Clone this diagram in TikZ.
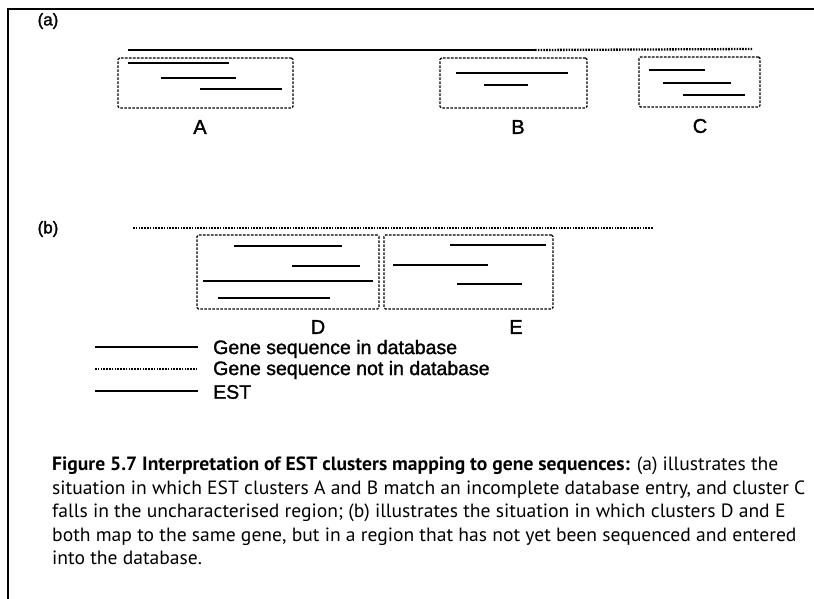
\documentclass[tikz,border=0pt]{standalone}
\usepackage{fontspec}
\setmainfont{Liberation Sans}
\newfontfamily\figfont[FakeBold=1.5]{Liberation Sans}
\newfontfamily\capfont[FakeStretch=1.02]{PT Sans}
\begin{document}
\begin{tikzpicture}[x=1pt,y=-1pt,
  frame/.style={line width=1.5pt},
  known/.style={line width=2.5pt},
  unknown/.style={line width=2.3pt, dash pattern=on 1.6pt off 1.2pt},
  est/.style={line width=2.1pt},
  cluster/.style={draw, line width=1.4pt, dash pattern=on 2.6pt off 1.4pt,
    rounded corners=1.5pt, inner sep=0pt, fill=none},
  lab/.style={font=\figfont\fontsize{20}{23}\selectfont, inner sep=0pt},
  panel/.style={font=\figfont\fontsize{17}{20}\selectfont, inner sep=0pt},
  legtext/.style={font=\figfont\fontsize{19.5}{22}\selectfont, anchor=west, inner sep=0pt}]
\useasboundingbox (0,0) rectangle (814,599);
\fill[white] (0,0) rectangle (814,599);

% outer frame (left and top rules)
\coordinate (fl) at (8,599);
\coordinate (tl) at (8,9);
\coordinate (tr) at (814,9);
\draw[frame] (fl) -- (tl) -- (tr);

% ---------- panel (a) ----------
\node[panel] (pa) at (48,21) {(a)};
\coordinate (a0) at (128,50);
\coordinate (a1) at (535,50);
\coordinate (a2) at (752,49);
\draw[known] (a0) -- (a1);
\draw[unknown] (a1) -- (a2);

\node[cluster, minimum width=175pt, minimum height=50pt] (boxA) at (205.5,83) {};
\draw[est] (128,63) -- (229,63);
\draw[est] (161,78) -- (236,78);
\draw[est] (200,89) -- (282,89);
\node[lab] (labA) at (200,127) {A};

\node[cluster, minimum width=147pt, minimum height=50pt] (boxB) at (513.5,83) {};
\draw[est] (456,73) -- (568,73);
\draw[est] (484,85) -- (528,85);
\node[lab] (labB) at (518,127) {B};

\node[cluster, minimum width=121pt, minimum height=50pt] (boxC) at (699.5,82) {};
\draw[est] (649,70) -- (705,70);
\draw[est] (663,83) -- (731,83);
\draw[est] (683,95) -- (745,95);
\node[lab] (labC) at (700,126) {C};

% ---------- panel (b) ----------
\node[panel] (pb) at (48,229) {(b)};
\coordinate (b0) at (133,228);
\coordinate (b1) at (653,228);
\draw[unknown] (b0) -- (b1);

\node[cluster, minimum width=182pt, minimum height=74pt] (boxD) at (288,272) {};
\draw[est] (234,246) -- (342,246);
\draw[est] (292,266) -- (360,266);
\draw[est] (203,281) -- (373,281);
\draw[est] (218,298) -- (330,298);
\node[lab] (labD) at (318,327) {D};

\node[cluster, minimum width=169pt, minimum height=74pt] (boxE) at (468.5,272) {};
\draw[est] (450,245) -- (546,245);
\draw[est] (393,265) -- (488,265);
\draw[est] (457,284) -- (522,284);
\node[lab] (labE) at (516,327) {E};

% ---------- key ----------
\coordinate (k1a) at (95,347);  \coordinate (k1b) at (198,347);
\coordinate (k2a) at (95,369);  \coordinate (k2b) at (198,369);
\coordinate (k3a) at (95,391);  \coordinate (k3b) at (198,391);
\draw[known] (k1a) -- (k1b);
\draw[unknown] (k2a) -- (k2b);
\draw[est] (k3a) -- (k3b);
\node[legtext] (t1) at (213,349) {Gene sequence in database};
\node[legtext] (t2) at (213,370) {Gene sequence not in database};
\node[legtext] (t3) at (213,392) {EST};

% ---------- caption ----------
\node[anchor=north west, align=left, inner sep=0pt,
  font=\capfont\fontsize{19.2}{23.5}\selectfont] (cap) at (52,457)
  {\textbf{Figure 5.7 Interpretation of EST clusters mapping to gene sequences:} (a) illustrates the\\
   situation in which EST clusters A and B match an incomplete database entry, and cluster C\\
   falls in the uncharacterised region; (b) illustrates the situation in which clusters D and E\\
   both map to the same gene, but in a region that has not yet been sequenced and entered\\
   into the database.};
\end{tikzpicture}
\end{document}
